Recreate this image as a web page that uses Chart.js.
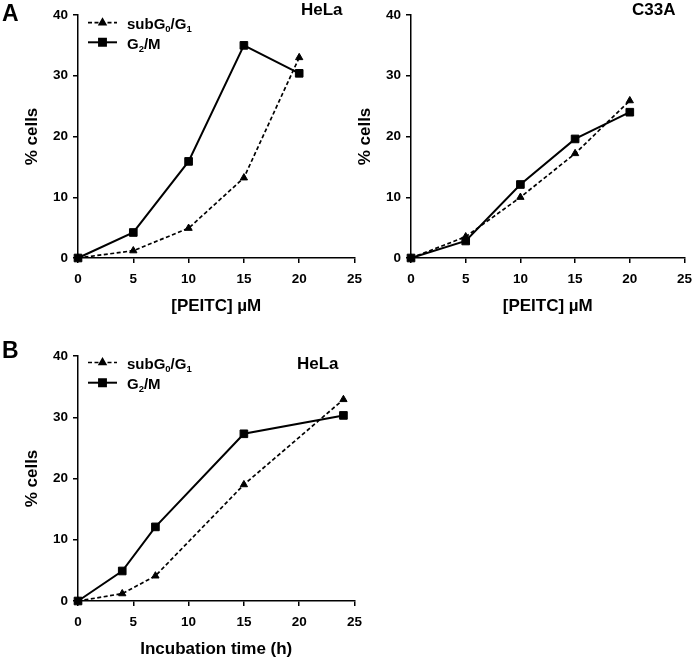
<!DOCTYPE html>
<html>
<head>
<meta charset="utf-8">
<script src="https://cdn.jsdelivr.net/npm/chart.js@4/dist/chart.umd.min.js"></script>
<style>
  html, body { margin: 0; padding: 0; background: #fff; width: 700px; height: 662px; overflow: hidden; }
  canvas { position: absolute; }
  .lbl { position: absolute; font-family: "Liberation Sans", Arial, sans-serif; font-weight: bold; line-height: 1; color: #000; white-space: nowrap; }
</style>
</head>
<body>
<canvas id="c1" width="370" height="325" style="left:0px;top:0px;width:370px;height:325px"></canvas>
<canvas id="c2" width="367" height="325" style="left:333px;top:0px;width:367px;height:325px"></canvas>
<canvas id="c3" width="370" height="322" style="left:0px;top:340px;width:370px;height:322px"></canvas>
<div class="lbl" style="left:2px;top:2px;font-size:23px">A</div>
<div class="lbl" style="left:2px;top:339px;font-size:23px">B</div>
<div class="lbl" style="left:301px;top:1px;font-size:17px">HeLa</div>
<div class="lbl" style="left:632px;top:1px;font-size:17px">C33A</div>
<div class="lbl" style="left:297px;top:355px;font-size:17px">HeLa</div>
<script>
// ---------- data ----------
const peitcDose = [0, 5, 10, 15, 20];          // µM
const helaSubG  = [0, 1.2, 4.9, 13.2, 33.0];
const helaG2M   = [0, 4.2, 15.9, 35.0, 30.4];
const c33aSubG  = [0, 3.5, 10.0, 17.2, 25.9];
const c33aG2M   = [0, 2.8, 12.1, 19.6, 24.0];
const timeHours = [0, 4, 7, 15, 24];           // h
const timeSubG  = [0, 1.2, 4.1, 19.0, 32.9];
const timeG2M   = [0, 4.9, 12.1, 27.3, 30.3];
const seriesNames = ['subG0/G1', 'G2/M'];
// legend text pieces: [text, isSubscript]
const legendParts = [
  [['subG', false], ['0', true], ['/G', false], ['1', true]],
  [['G', false], ['2', true], ['/M', false]]
];
const yTickMin = 0, yTickMax = 40, yTickStep = 10;
const xTickMin = 0, xTickMax = 25, xTickStep = 5;

const FONT = '"Liberation Sans", Arial, sans-serif';

const toXY = (xs, ys) => xs.map((x, i) => ({ x: x, y: ys[i] }));

const legendPlugin = {
  id: 'phaseLegend',
  afterDraw(chart, args, opts) {
    if (!opts || !opts.display) return;
    const ctx = chart.ctx;
    ctx.save();
    chart.data.datasets.forEach((ds, i) => {
      const yc = opts.rows[i];
      ctx.beginPath();
      ctx.setLineDash(ds.borderDash || []);
      ctx.lineWidth = ds.borderWidth;
      ctx.strokeStyle = ds.borderColor;
      ctx.moveTo(opts.x0, yc);
      ctx.lineTo(opts.x1, yc);
      ctx.stroke();
      ctx.setLineDash([]);
      Chart.helpers.drawPoint(ctx, {
        pointStyle: ds.pointStyle, radius: ds.pointRadius * 0.9, borderWidth: 1, rotation: 0
      }, (opts.x0 + opts.x1) / 2, yc);
      ctx.fillStyle = '#000';
      ctx.fill();
      let x = opts.textX;
      const base = yc + 6.2;
      ctx.textBaseline = 'alphabetic';
      ctx.textAlign = 'left';
      legendParts[i].forEach(([t, sub]) => {
        ctx.font = 'bold ' + (sub ? 9.5 : 15) + 'px ' + FONT;
        ctx.fillText(t, x, sub ? base + 3 : base);
        x += ctx.measureText(t).width;
      });
    });
    ctx.restore();
  }
};

function makeChart(id, xs, subG, g2m, xTitle, pad, xAxisH, xTitlePad, legendRows) {
  const common = { borderColor: '#000', backgroundColor: '#000', pointBorderColor: '#000',
                   pointBackgroundColor: '#000', tension: 0, clip: false, fill: false };
  return new Chart(document.getElementById(id), {
    type: 'line',
    data: {
      datasets: [
        Object.assign({}, common, {
          label: seriesNames[0], data: toXY(xs, subG), borderWidth: 1.7, borderDash: [4, 2.5],
          pointStyle: 'triangle', pointRadius: 4.2, pointHoverRadius: 4.2, pointBorderWidth: 1
        }),
        Object.assign({}, common, {
          label: seriesNames[1], data: toXY(xs, g2m), borderWidth: 2,
          pointStyle: 'rect', pointRadius: 5.4, pointHoverRadius: 5.4, pointBorderWidth: 1
        })
      ]
    },
    plugins: [legendPlugin],
    options: {
      responsive: false, animation: false, devicePixelRatio: 1,
      layout: { padding: pad },
      plugins: {
        legend: { display: false }, tooltip: { enabled: false },
        phaseLegend: legendRows ? { display: true, x0: 88, x1: 117, textX: 127, rows: legendRows } : { display: false }
      },
      scales: {
        x: {
          type: 'linear', min: xTickMin, max: xTickMax,
          ticks: { stepSize: xTickStep, color: '#000', padding: 8, font: { family: FONT, weight: 'bold', size: 13.5 } },
          grid: { drawOnChartArea: false, drawTicks: true, tickLength: 5, color: '#000', lineWidth: 1.5 },
          border: { color: '#000', width: 1.5 },
          title: { display: true, text: xTitle, color: '#000', padding: { top: 0, bottom: xTitlePad },
                   font: { family: FONT, weight: 'bold', size: 17 } },
          afterFit: s => { s.height = xAxisH; }
        },
        y: {
          min: yTickMin, max: yTickMax,
          ticks: { stepSize: yTickStep, color: '#000', padding: 5, font: { family: FONT, weight: 'bold', size: 13.5 } },
          grid: { drawOnChartArea: false, drawTicks: true, tickLength: 5, color: '#000', lineWidth: 1.5 },
          border: { color: '#000', width: 1.5 },
          title: { display: true, text: '% cells', color: '#000', padding: { top: 22, bottom: 0 },
                   font: { family: FONT, weight: 'bold', size: 17 } },
          afterFit: s => { s.width = 78; }
        }
      }
    }
  });
}

makeChart('c1', peitcDose, helaSubG, helaG2M, '[PEITC] µM',
          { left: 0, right: 12, top: 15, bottom: 0 }, 67, 8, [22.7, 42.3]);
makeChart('c2', peitcDose, c33aSubG, c33aG2M, '[PEITC] µM',
          { left: 0, right: 11, top: 15, bottom: 0 }, 67, 8, null);
makeChart('c3', timeHours, timeSubG, timeG2M, 'Incubation time (h)',
          { left: 0, right: 12, top: 16, bottom: 0 }, 61, 2, [22.5, 42.7]);
</script>
</body>
</html>
